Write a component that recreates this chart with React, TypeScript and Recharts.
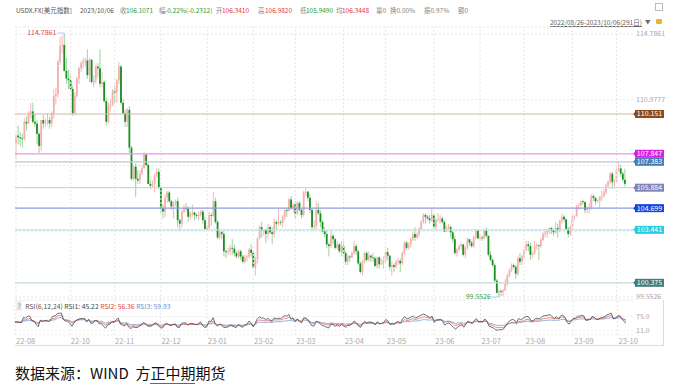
import React from "react";
import {
  ComposedChart,
  Bar,
  Line,
  XAxis,
  YAxis,
  CartesianGrid,
  ReferenceLine,
  ReferenceDot,
} from "recharts";

// USDX daily candles, one entry per weekday from 2022-08-26 to 2023-10-06
// (rows grouped by month: 22-08 ... 23-10)
const OPEN = [
  108.4, 108.9, 108.8, 108.75,
  108.7, 109.7, 109.6, 110.2, 110.3, 109.7, 109.6, 109.0, 108.3, 109.8, 109.6, 109.7, 109.8, 109.6, 110.2, 111.2, 111.3, 113.2, 114.1, 114.15, 112.65, 112.2,
  112.1, 111.6, 110.2, 111.2, 112.2, 112.8, 113.1, 113.2, 113.25, 112.4, 113.3, 112.0, 112.1, 112.9, 112.8, 111.9, 112.0, 110.9, 109.7, 110.6, 110.7,
  111.5, 111.4, 112.1, 112.9, 110.8, 110.2, 109.7, 110.4, 108.2, 106.4, 107.1, 106.4, 106.3, 106.7, 107.0, 107.8, 107.2, 106.1, 106.0, 106.1, 106.6, 106.8,
  105.9, 104.7, 104.5, 105.3, 105.6, 105.1, 104.8, 105.0, 105.1, 104.0, 103.8, 104.5, 104.7, 104.65, 104.2, 104.4, 104.45, 104.3, 104.25, 104.3, 104.5, 104.0,
  103.5, 103.55, 104.3, 104.25, 105.1, 103.9, 103.0, 103.3, 103.2, 102.2, 102.15, 102.2, 102.4, 102.35, 102.1, 101.9, 102.2, 101.9, 101.6, 101.85, 101.9, 102.3,
  102.1, 101.25, 101.75, 102.95, 103.6, 103.4, 103.45, 103.2, 103.6, 103.3, 103.2, 103.9, 103.8, 103.9, 103.85, 104.2, 104.6, 104.55, 105.2, 104.7,
  104.9, 104.4, 105.0, 104.6, 104.3, 105.6, 105.65, 105.3, 104.6, 103.6, 103.65, 104.6, 104.4, 103.9, 103.35, 103.2, 102.6, 102.5, 103.1, 102.9, 102.4, 102.6, 102.2,
  102.5, 102.1, 101.6, 101.9, 101.85, 102.1, 102.5, 102.2, 101.5, 101.0, 101.6, 102.1, 101.7, 101.95, 101.85, 101.8, 101.35, 101.85, 101.45, 101.5,
  101.65, 102.15, 101.95, 101.3, 101.4, 101.3, 101.6, 101.65, 101.5, 102.1, 102.7, 102.4, 102.6, 102.9, 103.2, 103.0, 103.2, 103.5, 103.9, 104.3, 104.2, 104.1, 104.0,
  104.3, 103.6, 104.0, 104.05, 104.1, 103.9, 103.35, 103.55, 103.6, 103.3, 102.9, 102.1, 102.3, 102.5, 102.6, 102.0, 102.4, 102.9, 102.7, 102.5, 103.0, 103.4,
  102.95, 103.0, 102.95, 103.4, 103.1, 102.0, 101.7, 101.4, 100.5, 99.8, 99.9, 99.85, 99.95, 100.3, 100.8, 101.1, 101.4, 101.3, 100.9, 101.8, 101.6,
  101.9, 102.3, 102.6, 102.5, 102.0, 102.1, 102.5, 102.55, 102.5, 102.85, 103.2, 103.25, 103.4, 103.55, 103.4, 103.3, 103.55, 103.4, 104.0, 104.2, 104.05, 103.5, 103.2,
  103.6, 104.2, 104.25, 104.8, 104.85, 105.1, 105.05, 104.6, 104.7, 104.75, 105.4, 105.3, 105.1, 105.15, 105.35, 105.4, 105.6, 106.0, 106.25, 106.7, 106.2,
  106.25, 106.9, 107.0, 106.7, 106.341,
];
const HIGH = [
  109.0, 109.5, 109.1, 109.0,
  109.9, 110.0, 110.3, 110.8, 110.8, 110.2, 109.8, 109.1, 109.8, 110.1, 109.9, 110.2, 110.0, 110.3, 111.6, 111.7, 113.3, 114.6, 114.7, 114.7861, 113.4, 112.7,
  112.5, 111.8, 111.4, 112.3, 112.9, 113.2, 113.4, 113.4, 113.9, 113.4, 113.3, 112.4, 113.0, 113.1, 113.9, 112.6, 112.1, 111.1, 110.8, 111.0, 111.6,
  111.8, 112.2, 113.15, 113.0, 111.0, 110.4, 110.5, 110.6, 108.3, 107.2, 107.3, 106.9, 106.9, 107.2, 107.99, 107.9, 107.3, 106.3, 106.3, 106.7, 107.0, 107.0,
  106.0, 104.9, 105.5, 105.7, 105.7, 105.2, 105.1, 105.2, 105.3, 104.1, 104.6, 104.9, 105.0, 104.8, 104.5, 104.9, 104.5, 104.4, 104.5, 104.6, 104.6, 104.2,
  103.7, 104.5, 104.4, 105.63, 105.3, 104.0, 103.5, 103.4, 103.4, 102.3, 102.4, 102.6, 102.9, 102.6, 102.2, 102.3, 102.3, 102.0, 102.0, 102.0, 102.4, 102.6,
  102.2, 101.9, 103.0, 103.7, 103.9, 103.5, 103.5, 103.8, 103.7, 103.6, 104.1, 104.0, 104.7, 104.0, 104.3, 104.6, 104.7, 105.3, 105.4, 105.0,
  105.1, 105.1, 105.1, 104.7, 105.7, 105.88, 105.7, 105.5, 104.7, 104.0, 105.1, 105.0, 104.6, 104.0, 103.6, 103.4, 102.7, 103.4, 103.2, 103.0, 102.8, 102.7, 102.8,
  102.8, 102.2, 102.0, 102.0, 102.2, 102.8, 102.6, 102.3, 101.6, 101.7, 102.2, 102.2, 102.2, 102.0, 102.1, 101.9, 101.9, 101.9, 101.8, 101.9,
  102.3, 102.4, 102.0, 101.6, 101.5, 101.7, 101.8, 101.8, 102.2, 102.8, 102.8, 102.7, 103.0, 103.3, 103.6, 103.3, 103.6, 104.0, 104.4, 104.4, 104.3, 104.3, 104.7,
  104.4, 104.1, 104.4, 104.3, 104.2, 104.0, 103.7, 103.8, 103.7, 103.4, 103.1, 102.4, 102.6, 102.7, 102.6, 102.5, 103.0, 102.9, 102.8, 103.1, 103.5, 103.4,
  103.2, 103.1, 103.5, 103.6, 103.1, 102.2, 101.8, 101.5, 100.6, 100.0, 100.0, 100.0, 100.6, 100.9, 101.2, 101.5, 101.5, 101.4, 101.9, 102.1, 102.0,
  102.3, 102.8, 102.8, 102.7, 102.2, 102.8, 102.7, 102.6, 103.0, 103.3, 103.5, 103.5, 103.6, 103.6, 103.5, 103.9, 103.8, 104.0, 104.4, 104.3, 104.1, 103.6, 103.7,
  104.4, 104.3, 104.9, 105.0, 105.15, 105.2, 105.1, 104.8, 105.0, 105.5, 105.5, 105.3, 105.2, 105.4, 105.7, 105.8, 106.1, 106.3, 106.8, 106.8, 106.4,
  107.0, 107.35, 107.2, 106.8, 106.982,
];
const LOW = [
  107.6, 108.4, 108.3, 108.2,
  108.6, 109.2, 109.6, 109.9, 109.6, 109.4, 108.4, 107.9, 108.0, 109.3, 109.4, 109.5, 109.3, 109.4, 109.9, 110.7, 111.1, 113.0, 113.7, 112.6, 111.9, 111.6,
  111.5, 110.05, 110.1, 111.1, 111.9, 112.6, 112.8, 112.9, 112.2, 112.0, 111.9, 111.7, 111.9, 112.3, 111.7, 111.7, 110.8, 109.5, 109.6, 110.3, 110.6,
  110.7, 110.8, 111.9, 110.7, 110.1, 109.4, 109.4, 107.9, 106.3, 106.3, 105.35, 106.1, 106.1, 106.6, 107.0, 107.1, 106.1, 105.8, 105.9, 105.6, 106.5, 105.8,
  104.4, 104.1, 104.2, 105.0, 105.0, 104.6, 104.1, 104.8, 103.6, 103.4, 103.6, 104.4, 104.5, 103.9, 104.0, 104.2, 104.0, 104.1, 104.0, 104.2, 103.8, 103.4,
  103.4, 103.5, 103.7, 104.2, 103.8, 102.9, 102.9, 102.9, 101.9, 101.8, 102.0, 102.0, 102.0, 101.9, 101.8, 101.8, 101.7, 101.5, 101.5, 101.6, 101.8, 101.9,
  101.2, 100.8, 101.5, 102.9, 103.0, 103.1, 102.7, 102.9, 103.2, 102.6, 103.0, 103.4, 103.7, 103.7, 103.6, 104.0, 104.2, 104.5, 104.6, 104.5,
  104.1, 104.3, 104.5, 104.1, 104.2, 105.4, 105.1, 104.4, 103.45, 103.4, 103.5, 104.3, 103.6, 103.3, 103.0, 102.4, 101.9, 102.4, 102.6, 102.3, 102.3, 102.1, 101.9,
  101.9, 101.4, 101.4, 101.6, 101.8, 102.0, 102.0, 101.4, 100.9, 100.8, 101.5, 101.6, 101.6, 101.6, 101.6, 101.3, 101.2, 101.2, 101.4, 101.2,
  101.6, 101.7, 101.1, 100.8, 101.0, 101.2, 101.4, 101.0, 101.4, 102.0, 102.3, 102.3, 102.4, 102.8, 102.8, 102.9, 103.0, 103.4, 103.8, 103.8, 104.0, 103.8, 103.9,
  103.5, 103.4, 103.9, 103.8, 103.8, 103.3, 103.3, 103.4, 103.0, 102.7, 102.0, 101.9, 102.2, 102.3, 101.9, 101.8, 102.3, 102.5, 102.4, 102.4, 102.9, 102.9,
  102.8, 102.8, 102.9, 103.0, 101.9, 101.6, 101.3, 100.4, 99.75, 99.5526, 99.6, 99.6, 99.9, 100.2, 100.7, 101.0, 101.2, 100.6, 100.8, 101.4, 101.4,
  101.8, 102.2, 102.2, 101.7, 101.8, 102.0, 102.3, 101.7, 102.4, 102.8, 103.0, 103.0, 103.2, 103.2, 103.1, 103.2, 103.0, 103.3, 103.8, 103.9, 103.4, 103.0, 103.1,
  103.3, 104.0, 104.2, 104.6, 104.8, 104.9, 104.4, 104.4, 104.4, 104.6, 105.1, 104.9, 105.0, 104.7, 105.1, 105.3, 105.5, 105.9, 106.1, 105.8, 105.9,
  106.1, 106.8, 106.5, 106.2, 105.949,
];
const CLOSE = [
  108.8, 108.8, 108.75, 108.7,
  109.7, 109.6, 110.2, 110.3, 109.7, 109.6, 109.0, 108.3, 109.8, 109.6, 109.7, 109.8, 109.6, 110.2, 111.2, 111.3, 113.2, 114.1, 114.15, 112.65, 112.2, 112.1,
  111.6, 110.2, 111.2, 112.2, 112.8, 113.1, 113.2, 113.25, 112.4, 113.3, 112.0, 112.1, 112.9, 112.8, 111.9, 112.0, 110.9, 109.7, 110.6, 110.7, 111.5,
  111.4, 112.1, 112.9, 110.8, 110.2, 109.7, 110.4, 108.2, 106.4, 107.1, 106.4, 106.3, 106.7, 107.0, 107.8, 107.2, 106.1, 106.0, 106.1, 106.6, 106.8, 105.9,
  104.7, 104.5, 105.3, 105.6, 105.1, 104.8, 105.0, 105.1, 104.0, 103.8, 104.5, 104.7, 104.65, 104.2, 104.4, 104.45, 104.3, 104.25, 104.3, 104.5, 104.0, 103.5,
  103.55, 104.3, 104.25, 105.1, 103.9, 103.0, 103.3, 103.2, 102.2, 102.15, 102.2, 102.4, 102.35, 102.1, 101.9, 102.2, 101.9, 101.6, 101.85, 101.9, 102.3, 102.1,
  101.25, 101.75, 102.95, 103.6, 103.4, 103.45, 103.2, 103.6, 103.3, 103.2, 103.9, 103.8, 103.9, 103.85, 104.2, 104.6, 104.55, 105.2, 104.7, 104.9,
  104.4, 105.0, 104.6, 104.3, 105.6, 105.65, 105.3, 104.6, 103.6, 103.65, 104.6, 104.4, 103.9, 103.35, 103.2, 102.6, 102.5, 103.1, 102.9, 102.4, 102.6, 102.2, 102.5,
  102.1, 101.6, 101.9, 101.85, 102.1, 102.5, 102.2, 101.5, 101.0, 101.6, 102.1, 101.7, 101.95, 101.85, 101.8, 101.35, 101.85, 101.45, 101.5, 101.65,
  102.15, 101.95, 101.3, 101.4, 101.3, 101.6, 101.65, 101.5, 102.1, 102.7, 102.4, 102.6, 102.9, 103.2, 103.0, 103.2, 103.5, 103.9, 104.3, 104.2, 104.1, 104.0, 104.3,
  103.6, 104.0, 104.05, 104.1, 103.9, 103.35, 103.55, 103.6, 103.3, 102.9, 102.1, 102.3, 102.5, 102.6, 102.0, 102.4, 102.9, 102.7, 102.5, 103.0, 103.4, 102.95,
  103.0, 102.95, 103.4, 103.1, 102.0, 101.7, 101.4, 100.5, 99.8, 99.9, 99.85, 99.95, 100.3, 100.8, 101.1, 101.4, 101.3, 100.9, 101.8, 101.6, 101.9,
  102.3, 102.6, 102.5, 102.0, 102.1, 102.5, 102.55, 102.5, 102.85, 103.2, 103.25, 103.4, 103.55, 103.4, 103.3, 103.55, 103.4, 104.0, 104.2, 104.05, 103.5, 103.2, 103.6,
  104.2, 104.25, 104.8, 104.85, 105.1, 105.05, 104.6, 104.7, 104.75, 105.4, 105.3, 105.1, 105.15, 105.35, 105.4, 105.6, 106.0, 106.25, 106.7, 106.2, 106.25,
  106.9, 107.0, 106.7, 106.35, 106.1071,
];

const FIRST_DAY = Date.UTC(2022, 7, 26);

// horizontal levels drawn by the terminal user
const LEVELS = [110.151, 107.847, 107.383, 105.884, 104.699, 103.441, 100.375];
const LEVEL_LABELS = ["110.151", "107.847", "107.383", "105.884", "104.699", "103.441", "100.375"];
const LEVEL_LINE = ["#cdb9a5", "#e59ae5", "#b7c8d8", "#d3d3e3", "#8f9ce4", "#aee9ec", "#c3dcd7"];
const LEVEL_TAG = ["#8c4a1e", "#d820e0", "#4b7fb1", "#8383bb", "#1646e2", "#26cde3", "#3f7d79"];

const PRICE_TICKS = [114.7861, 110.9777, 107.1693, 103.3609, 99.5526];
const PRICE_TICK_SHOWN = [true, true, false, false, true];
const RSI_TICKS = [11, 75];
const RSI_PERIODS = [6, 12, 24];

const HEADER: [string, number, string][] = [
  ["USDX.FX[美元指数]", 16, "#555"],
  ["2023/10/06", 80, "#555"],
  ["收", 120, "#888"],
  ["106.1071", 126, "#2a9a2a"],
  ["幅", 159, "#888"],
  ["-0.22%(-0.2312)", 165, "#2a9a2a"],
  ["开", 216, "#888"],
  ["106.3410", 222, "#e03a3a"],
  ["高", 258, "#888"],
  ["106.9820", 265, "#e03a3a"],
  ["低", 300, "#888"],
  ["105.9490", 306, "#2a9a2a"],
  ["均", 336, "#888"],
  ["106.3448", 342, "#e03a3a"],
  ["量0", 376, "#888"],
  ["换0.00%", 390, "#888"],
  ["振0.97%", 424, "#888"],
  ["额0", 458, "#888"],
];

const FONT = '"Noto Sans CJK SC", "Noto Sans", sans-serif';

// weekday calendar
const DATES: string[] = [];
for (let t = FIRST_DAY; DATES.length < CLOSE.length; t += 86400000) {
  const d = new Date(t);
  const wd = d.getUTCDay();
  if (wd > 0 && wd < 6) DATES.push(d.toISOString().slice(0, 10));
}

// first bar of each month, skipping ones squeezed against the previous label
const MONTH_LABEL: Record<number, string> = {};
let lastTick = -99;
DATES.forEach((d, i) => {
  if (i === 0 || d.slice(5, 7) !== DATES[i - 1].slice(5, 7)) {
    if (i - lastTick >= 10) {
      MONTH_LABEL[i] = d.slice(2, 7);
      lastTick = i;
    }
  }
});
const MONTH_IDX = Object.keys(MONTH_LABEL).map(Number);

// RSI as the terminal computes it: SMA(MAX(C-LC,0),N,1)/SMA(ABS(C-LC),N,1)*100
// (started from a neutral state since the earlier history is not on the chart)
function rsi(n: number) {
  let up = 0.2;
  let all = 0.4;
  return CLOSE.map((c, i) => {
    if (i > 0) {
      const diff = c - CLOSE[i - 1];
      up = (Math.max(diff, 0) + (n - 1) * up) / n;
      all = (Math.abs(diff) + (n - 1) * all) / n;
    }
    return all === 0 ? 50 : (up / all) * 100;
  });
}
const [RSI1, RSI2, RSI3] = RSI_PERIODS.map(rsi);

const ROWS = CLOSE.map((c, i) => ({
  i,
  o: OPEN[i],
  h: HIGH[i],
  l: LOW[i],
  c,
  r1: RSI1[i],
  r2: RSI2[i],
  r3: RSI3[i],
}));

const HI_IDX = HIGH.indexOf(Math.max(...HIGH));
const LO_IDX = LOW.indexOf(Math.min(...LOW));

const Candle = (props: any) => {
  const { x, y, width, height, payload } = props;
  if (!payload || x == null) return null;
  const { o, h, l, c } = payload;
  const top = Math.min(y, y + height);
  const span = Math.abs(height);
  const k = h - l > 0 ? span / (h - l) : 0;
  const yo = top + (h - o) * k;
  const yc = top + (h - c) * k;
  const up = c >= o;
  const cx = x + width / 2;
  const bTop = Math.min(yo, yc);
  const bH = Math.max(Math.abs(yo - yc), 0.8);
  return (
    <g>
      <line x1={cx} x2={cx} y1={top} y2={top + span} stroke={up ? "#f3a4a4" : "#84c884"} strokeWidth={0.8} />
      <rect x={cx - 0.9} y={bTop} width={1.8} height={bH} fill={up ? "#f4b0b0" : "#1b8f22"} />
    </g>
  );
};

const PriceTick = ({ x, y, payload }: any) => {
  const k = PRICE_TICKS.indexOf(payload.value);
  if (k < 0 || !PRICE_TICK_SHOWN[k]) return <g />;
  return (
    <text x={x} y={y} dy="0.35em" fontSize={7} fill="#a8a8a8" fontFamily={FONT}>
      {payload.value.toFixed(4)}
    </text>
  );
};

const RsiTick = ({ x, y, payload }: any) => (
  <text x={x} y={y} dy="0.35em" fontSize={7} fill="#a8a8a8" fontFamily={FONT}>
    {Number(payload.value).toFixed(1)}
  </text>
);

const MonthTick = ({ x, y, payload }: any) => {
  const lab = MONTH_LABEL[payload.value];
  if (!lab) return <g />;
  return (
    <text x={x + 1} y={y + 6} dy="0.35em" fontSize={7.5} fill="#aaa" fontFamily={FONT}>
      {lab}
    </text>
  );
};

const LevelTag = ({ viewBox, text, color }: any) => {
  if (!viewBox) return null;
  const x = viewBox.x + viewBox.width;
  const y = viewBox.y;
  return (
    <g>
      <polygon points={`${x},${y} ${x + 3},${y - 3} ${x + 3},${y + 3}`} fill={color} />
      <rect x={x + 2} y={y - 4} width={29} height={8} fill={color} />
      <text x={x + 16.5} y={y} dy="0.35em" textAnchor="middle" fontSize={7} fill="#fff" fontFamily={FONT}>
        {text}
      </text>
    </g>
  );
};

const Extreme = ({ cx, cy, text, color, below }: any) => {
  if (cx == null) return null;
  const ly = below ? cy : cy - 1;
  return (
    <g>
      <polyline
        points={`${cx - 7},${ly} ${cx},${ly} ${cx},${below ? ly - 3 : ly + 3}`}
        fill="none"
        stroke="#9cc6df"
        strokeWidth={0.8}
      />
      <text x={cx - 8} y={ly} dy="0.35em" textAnchor="end" fontSize={7} fill={color} fontFamily={FONT}>
        {text}
      </text>
    </g>
  );
};

export default function App() {
  return (
    <div
      style={{
        position: "absolute",
        left: 0,
        top: 0,
        width: 675,
        height: 390,
        background: "#fff",
        fontFamily: FONT,
        overflow: "hidden",
      }}
    >
      {HEADER.map(([t, x, col]) => (
        <span
          key={t + x}
          style={{ position: "absolute", left: x, top: 5, fontSize: 6.5, color: col, whiteSpace: "nowrap", lineHeight: "10px" }}
        >
          {t}
        </span>
      ))}
      <div style={{ position: "absolute", left: 655, top: 3, width: 6, height: 6, border: "1px solid #bbb" }} />
      <span
        style={{
          position: "absolute",
          left: 550,
          top: 17,
          fontSize: 6.5,
          color: "#666",
          textDecoration: "underline",
          whiteSpace: "nowrap",
          lineHeight: "10px",
        }}
      >
        2022/08/26-2023/10/06(291日)
      </span>
      <span style={{ position: "absolute", left: 645, top: 17, fontSize: 5.5, color: "#666", lineHeight: "10px" }}>▼</span>
      <div style={{ position: "absolute", left: 656, top: 19, width: 6, height: 5, background: "#f2b233", borderRadius: 1 }} />

      <div style={{ position: "absolute", left: 0, top: 0 }}>
        <ComposedChart width={675} height={306} data={ROWS} margin={{ top: 27, right: 0, bottom: 6, left: 15 }} barCategoryGap={0}>
          <CartesianGrid vertical={false} stroke="#e6e6e6" strokeDasharray="2 2" />
          <XAxis dataKey="i" hide padding={{ left: 0, right: 7 }} />
          <YAxis
            orientation="right"
            type="number"
            domain={[99.3795, 115.19]}
            allowDataOverflow
            ticks={PRICE_TICKS}
            interval={0}
            tick={<PriceTick />}
            tickSize={1}
            tickMargin={2}
            axisLine={false}
            tickLine={false}
            width={42}
          />
          {MONTH_IDX.map((i) => (
            <ReferenceLine key={"m" + i} x={i} stroke="#e6e6e6" strokeDasharray="2 2" />
          ))}
          {LEVELS.map((v, k) => (
            <ReferenceLine
              key={"lv" + k}
              y={v}
              stroke={LEVEL_LINE[k]}
              strokeWidth={1.2}
              label={<LevelTag text={LEVEL_LABELS[k]} color={LEVEL_TAG[k]} />}
            />
          ))}
          <Bar dataKey={(r: any) => [r.l, r.h]} shape={(p: any) => <Candle {...p} />} isAnimationActive={false} />
          <ReferenceDot
            x={HI_IDX}
            y={HIGH[HI_IDX]}
            shape={(p: any) => <Extreme {...p} text={HIGH[HI_IDX].toFixed(4)} color="#e04646" />}
          />
          <ReferenceDot
            x={LO_IDX}
            y={LOW[LO_IDX]}
            shape={(p: any) => <Extreme {...p} text={LOW[LO_IDX].toFixed(4)} color="#3c9c3c" below />}
          />
        </ComposedChart>
      </div>

      <div style={{ position: "absolute", left: 0, top: 300 }}>
        <ComposedChart width={675} height={45} data={ROWS} margin={{ top: 0, right: 0, bottom: 0, left: 15 }}>
          <CartesianGrid vertical={false} stroke="#ececec" strokeDasharray="2 2" />
          <XAxis
            dataKey="i"
            interval={0}
            tick={<MonthTick />}
            tickSize={0}
            tickMargin={0}
            axisLine={false}
            tickLine={false}
            height={10}
            padding={{ left: 0, right: 7 }}
          />
          <YAxis
            orientation="right"
            type="number"
            domain={[-9, 150]}
            allowDataOverflow
            ticks={RSI_TICKS}
            interval={0}
            tick={<RsiTick />}
            tickSize={1}
            tickMargin={2}
            axisLine={false}
            tickLine={false}
            width={42}
          />
          {MONTH_IDX.map((i) => (
            <ReferenceLine key={"rm" + i} x={i} stroke="#e6e6e6" strokeDasharray="2 2" />
          ))}
          <Line dataKey="r3" stroke="#7b9bd6" strokeWidth={0.8} dot={false} isAnimationActive={false} />
          <Line dataKey="r2" stroke="#e06a6a" strokeWidth={0.8} dot={false} isAnimationActive={false} />
          <Line dataKey="r1" stroke="#4a4a4a" strokeWidth={0.8} dot={false} isAnimationActive={false} />
        </ComposedChart>
      </div>

      <div style={{ position: "absolute", left: 15, top: 345, width: 648, borderTop: "1px solid #dcdcdc" }} />
      <div style={{ position: "absolute", left: 663, top: 300, height: 46, borderLeft: "1px solid #dcdcdc" }} />

      <div style={{ position: "absolute", left: 16, top: 302, fontSize: 6.8, lineHeight: "9px", whiteSpace: "nowrap", color: "#555" }}>
        <span style={{ background: "#eee", color: "#777", padding: "0 1.5px", marginRight: 3 }}>?</span>
        <span>RSI(6,12,24) </span>
        <span style={{ color: "#444" }}>RSI1: 45.22 </span>
        <span style={{ color: "#e04646" }}>RSI2: 56.36 </span>
        <span style={{ color: "#6c8fd0" }}>RSI3: 59.93</span>
      </div>

      <div style={{ position: "absolute", left: 15, top: 363, fontSize: 15, lineHeight: "20px", color: "#111", whiteSpace: "nowrap" }}>
        数据来源：WIND&nbsp;&nbsp;方
        <span style={{ borderBottom: "1.5px solid #3c6cb4" }}>正中期</span>
        期货
      </div>
    </div>
  );
}
